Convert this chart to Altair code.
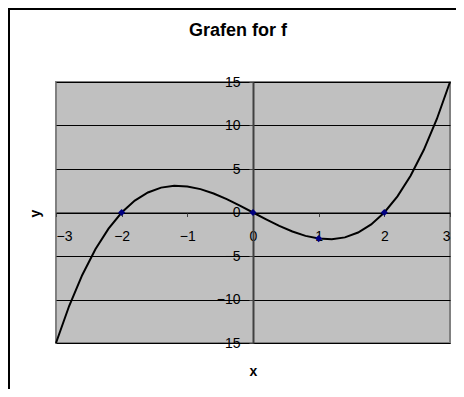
import altair as alt
import pandas as pd

# curve values
xs = [-3.0, -2.8, -2.6, -2.4, -2.2, -2.0, -1.8, -1.6, -1.4, -1.2, -1.0,
      -0.8, -0.6, -0.4, -0.2, 0.0, 0.2, 0.4, 0.6, 0.8, 1.0,
      1.2, 1.4, 1.6, 1.8, 2.0, 2.2, 2.4, 2.6, 2.8, 3.0]
ys = [-15.0, -10.75, -7.18, -4.22, -1.85, 0.0, 1.37, 2.3, 2.86, 3.07, 3.0,
      2.69, 2.18, 1.54, 0.79, 0.0, -0.79, -1.54, -2.18, -2.69, -3.0,
      -3.07, -2.86, -2.3, -1.37, 0.0, 1.85, 4.22, 7.18, 10.75, 15.0]

# marked points
px = [-2, 0, 1, 2]
py = [0, 0, -3, 0]

x_ticks = [-3, -2, -1, 0, 1, 2, 3]
y_ticks = [-15, -10, -5, 0, 5, 10, 15]

FONT = "Liberation Sans"

curve = pd.DataFrame({"x": xs, "y": ys})
pts = pd.DataFrame({"x": px, "y": py})

x_enc = alt.X("x:Q",
              scale=alt.Scale(domain=[-3, 3], nice=False, zero=False),
              axis=alt.Axis(values=x_ticks, orient="bottom", offset=-130.5,
                            grid=False, domainColor="#000000", domainWidth=1,
                            tickColor="#404040", tickSize=4, tickWidth=1,
                            labelFontSize=14, labelFont=FONT, labelColor="#000000",
                            labelPadding=13, format="d",
                            title="x", titleFont=FONT, titleFontSize=14,
                            titleFontWeight="bold", titleColor="#000000",
                            titleY=159, titleBaseline="middle"))
y_enc = alt.Y("y:Q",
              scale=alt.Scale(domain=[-15, 15], nice=False, zero=False),
              axis=alt.Axis(values=y_ticks, orient="left", offset=-197,
                            grid=True, gridColor="#000000", gridWidth=1,
                            domainColor="#404040", domainWidth=2,
                            tickColor="#404040", tickSize=4, tickWidth=1,
                            labelFontSize=14, labelFont=FONT, labelColor="#000000",
                            labelPadding=9, format="d",
                            title="y", titleFont=FONT, titleFontSize=14,
                            titleFontWeight="bold", titleColor="#000000",
                            titleX=-218, titleY=131, titleAngle=270,
                            titleAlign="center", titleBaseline="middle"))

one = pd.DataFrame({"a": [0]})
frame_left = alt.Chart(one).mark_rule(color="#000000", strokeWidth=2).encode(
    x=alt.value(-47), y=alt.value(-73), y2=alt.value(700))
frame_top = alt.Chart(one).mark_rule(color="#000000", strokeWidth=2).encode(
    y=alt.value(-73), x=alt.value(-48), x2=alt.value(700))

line = alt.Chart(curve).mark_line(color="#000000", strokeWidth=2).encode(x=x_enc, y=y_enc)
points = alt.Chart(pts).mark_point(shape="diamond", filled=True, color="#000080",
                                   size=50, opacity=1).encode(x=x_enc, y=y_enc)

chart = alt.layer(frame_left, frame_top, line, points).properties(
    width=394, height=261,
    padding={"left": 48, "top": 74, "right": 6, "bottom": 46},
    autosize=alt.AutoSizeParams(type="none"),
    title=alt.TitleParams("Grafen for f", font=FONT, fontSize=18, fontWeight="bold",
                          color="#000000", anchor="middle", dx=-15, offset=-32),
).configure_view(fill="#C0C0C0", stroke="#808080", strokeWidth=2)

chart.save("out.html", embed_options={"renderer": "svg", "actions": False})
